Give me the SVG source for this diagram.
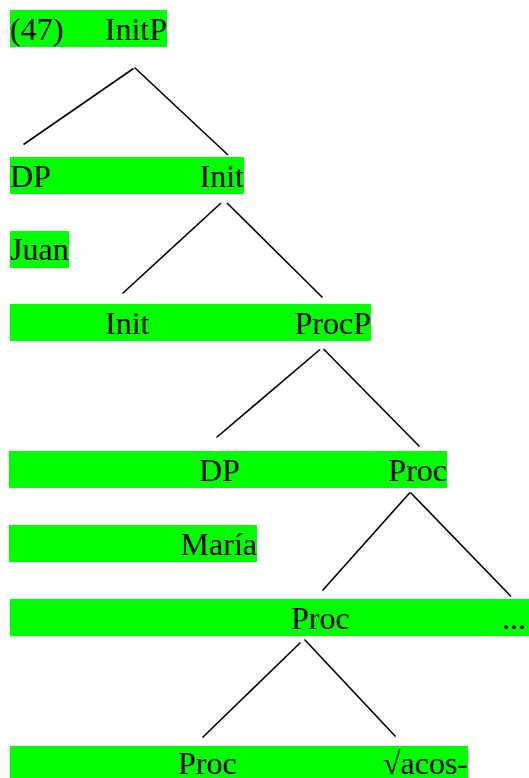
<svg xmlns="http://www.w3.org/2000/svg" width="529" height="778" viewBox="0 0 529 778">
  <style>
    .hl { fill: #00ff00; }
    text { font-family: "Liberation Serif", "Times New Roman", serif; font-size: 32px; fill: #000; }
    .end { text-anchor: end; }
    .edge { stroke: #000; stroke-width: 1.6; fill: none; }
  </style>
  <rect width="529" height="778" fill="#fff"/>

  <!-- highlighted label rows -->
  <g id="highlights">
    <rect class="hl" x="10" y="10" width="157" height="37"/>
    <rect class="hl" x="10" y="157" width="234" height="37"/>
    <rect class="hl" x="10" y="231" width="59" height="37"/>
    <rect class="hl" x="10" y="304" width="361" height="37"/>
    <rect class="hl" x="9" y="451" width="438" height="37"/>
    <rect class="hl" x="9" y="525" width="248" height="37"/>
    <rect class="hl" x="10" y="599" width="519" height="37"/>
    <rect class="hl" x="10" y="746" width="458" height="37"/>
  </g>

  <!-- tree nodes -->
  <g id="example-number"><text x="10" y="40">(47)</text></g>
  <g id="initP"><text class="end" x="167" y="40">InitP</text></g>

  <g id="dp-spec"><text x="10" y="187">DP</text></g>
  <g id="init-bar"><text class="end" x="244" y="187">Init</text></g>
  <g id="juan"><text x="10" y="260">Juan</text></g>

  <g id="init-head"><text x="105" y="333.5">Init</text></g>
  <g id="procP"><text class="end" x="371" y="333.5">ProcP</text></g>

  <g id="dp-compl"><text x="199" y="480.5">DP</text></g>
  <g id="proc-bar"><text class="end" x="447" y="480.5">Proc</text></g>
  <g id="maria"><text class="end" x="257" y="554.5">María</text></g>

  <g id="proc-mid"><text x="291" y="628.5">Proc</text></g>
  <g id="ellipsis"><text x="502" y="628.5">...</text></g>

  <g id="proc-head"><text x="178" y="774">Proc</text></g>
  <g id="root"><text class="end" x="468" y="774">√acos-</text></g>

  <!-- branches -->
  <g id="connectors">
    <line class="edge" x1="133.5" y1="68.5" x2="23.5" y2="144.5"/>
    <line class="edge" x1="134.5" y1="67.5" x2="228" y2="155"/>

    <line class="edge" x1="221" y1="203" x2="122.5" y2="293.5"/>
    <line class="edge" x1="227" y1="203" x2="322.5" y2="297.5"/>

    <line class="edge" x1="320" y1="349.5" x2="216.5" y2="437.5"/>
    <line class="edge" x1="323.5" y1="349" x2="419.5" y2="446.5"/>

    <line class="edge" x1="410" y1="492.5" x2="322.5" y2="590.5"/>
    <line class="edge" x1="410.5" y1="492.5" x2="511" y2="596.5"/>

    <line class="edge" x1="300.5" y1="642.5" x2="202.5" y2="737.5"/>
    <line class="edge" x1="304.5" y1="639.5" x2="395.5" y2="736.5"/>
  </g>
</svg>
